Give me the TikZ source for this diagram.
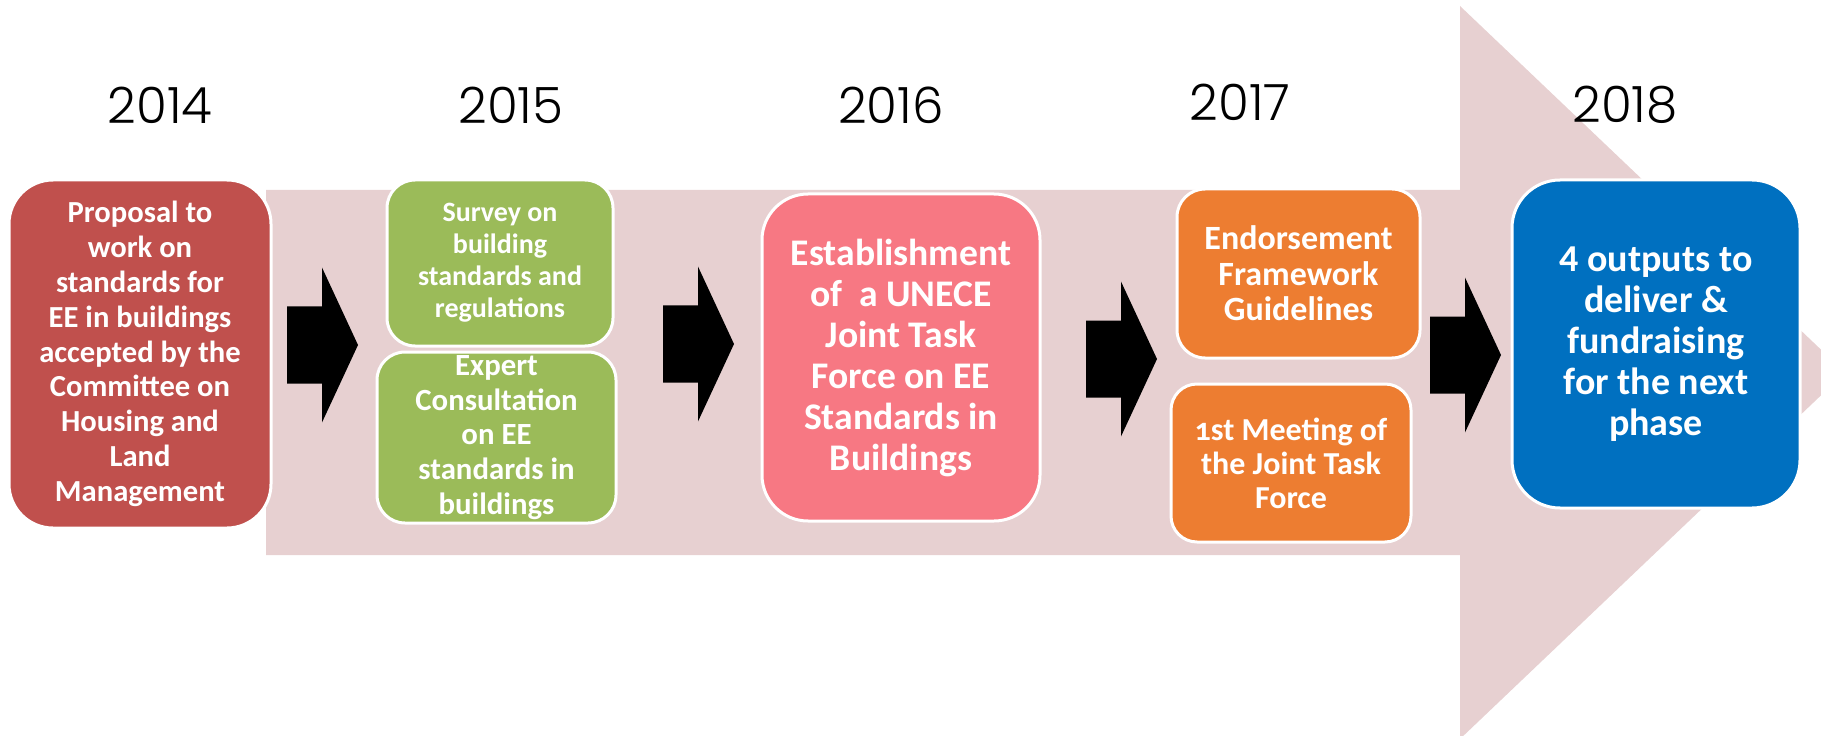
\documentclass[tikz,border=0pt]{standalone}
\usepackage{fontspec}
\setmainfont{Carlito}
\newfontfamily\yearfont{Poppins}[UprightFont=* Light]
\definecolor{bandpink}{RGB}{231,208,209}
\definecolor{boxred}{RGB}{192,80,77}
\definecolor{boxgreen}{RGB}{155,187,89}
\definecolor{boxrose}{RGB}{247,120,131}
\definecolor{boxorange}{RGB}{237,125,49}
\definecolor{boxblue}{RGB}{0,112,192}
\tikzset{
  stage/.style={draw=white, line width=1.5pt, text=white, align=center, inner sep=0pt},
  year/.style={font=\yearfont\fontsize{25}{29}\selectfont},
}
\begin{document}
\begin{tikzpicture}[x=0.5pt,y=0.5pt]
\useasboundingbox (0,0) rectangle (1821,735);
\begin{scope}
\clip (0,0) rectangle (1821,735);
\fill[bandpink] (266,180) -- (1460,180) -- (1460,-4) -- (1845,362.5) -- (1460,729) -- (1460,545) -- (266,545) -- cycle; % band
\end{scope}
% black step arrows
\foreach \ax/\ay in {287/390, 663/391, 1086/376, 1430/380}
  \fill[black] (\ax,\ay-38.5) -- (\ax+35,\ay-38.5) -- (\ax+35,\ay-77.5) -- (\ax+71,\ay) -- (\ax+35,\ay+77.5) -- (\ax+35,\ay+38.5) -- (\ax,\ay+38.5) -- cycle;
% years
\node[year] (y14) at (160,630) {2014};
\node[year] (y15) at (511,630) {2015};
\node[year] (y16) at (891,630) {2016};
\node[year] (y17) at (1240,633) {2017};
\node[year] (y18) at (1625,630) {2018};
% stages
\node[stage, fill=boxred, minimum width=131pt, minimum height=174pt, rounded corners=22pt, font=\bfseries\fontsize{15.3}{17.4}\selectfont] (p14) at (140,381) {Proposal to\\work on\\standards for\\EE in buildings\\accepted by the\\Committee on\\Housing and\\Land\\Management};
\node[stage, fill=boxgreen, minimum width=113pt, minimum height=83pt, rounded corners=14pt, font=\bfseries\fontsize{14}{16}\selectfont] (s15) at (500,472) {Survey on\\building\\standards and\\regulations};
\node[stage, fill=boxgreen, minimum width=119.5pt, minimum height=85.5pt, rounded corners=14pt] (c15) at (496.5,297.5) {};
\begin{scope}
\clip[rounded corners=14pt] (c15.south west) rectangle (c15.north east);
\node[text=white, align=center, font=\bfseries\fontsize{15.4}{17.4}\selectfont] (c15txt) at (c15.center) {Expert\\Consultation\\on EE\\standards in\\buildings};
\end{scope}
\node[stage, fill=boxrose, minimum width=139pt, minimum height=163.5pt, rounded corners=23pt, font=\bfseries\fontsize{18.8}{20.5}\selectfont] (t16) at (901,377.5) {Establishment\\of\ \ a UNECE\\Joint Task\\Force on EE\\Standards in\\Buildings};
\node[stage, fill=boxorange, minimum width=121.5pt, minimum height=84.5pt, rounded corners=14pt, font=\bfseries\fontsize{17}{17.7}\selectfont] (e17) at (1298.5,461.5) {Endorsement\\Framework\\Guidelines};
\node[stage, fill=boxorange, minimum width=120pt, minimum height=79pt, rounded corners=13pt, font=\bfseries\fontsize{16}{17}\selectfont\addfontfeatures{Numbers=OldStyle}] (m17) at (1291,272) {1st Meeting of\\the Joint Task\\Force};
\node[stage, fill=boxblue, minimum width=144pt, minimum height=164pt, rounded corners=24pt, font=\bfseries\fontsize{19}{20.5}\selectfont] (o18) at (1656,391) {4 outputs to\\deliver \&\\fundraising\\for the next\\phase};
\end{tikzpicture}
\end{document}
